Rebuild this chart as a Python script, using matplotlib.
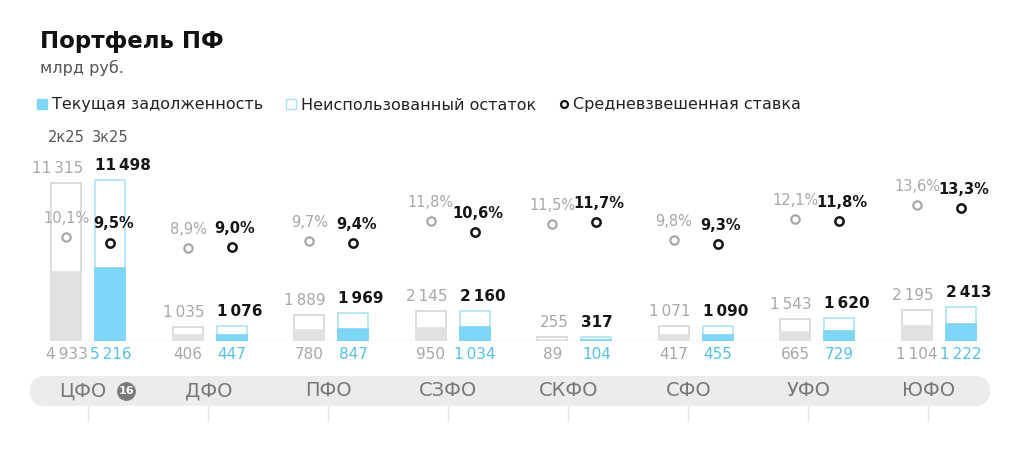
import matplotlib

matplotlib.use("Agg")
import matplotlib.pyplot as plt
import numpy as np
from matplotlib.lines import Line2D
from matplotlib.patches import FancyBboxPatch
from matplotlib.transforms import blended_transform_factory

REGIONS = ["ЦФО", "ДФО", "ПФО", "СЗФО", "СКФО", "СФО", "УФО", "ЮФО"]
PERIODS = ["2к25", "3к25"]
TOTAL_PREV = [11315, 1035, 1889, 2145, 255, 1071, 1543, 2195]
TOTAL_CUR = [11498, 1076, 1969, 2160, 317, 1090, 1620, 2413]
DEBT_PREV = [4933, 406, 780, 950, 89, 417, 665, 1104]
DEBT_CUR = [5216, 447, 847, 1034, 104, 455, 729, 1222]
RATE_PREV = [10.1, 8.9, 9.7, 11.8, 11.5, 9.8, 12.1, 13.6]
RATE_CUR = [9.5, 9.0, 9.4, 10.6, 11.7, 9.3, 11.8, 13.3]
BADGE = "16"

BLUE = "#7dd6f6"
BLUE_EDGE = "#aee3f7"
BLUE_TEXT = "#55c1ea"
GREY_FILL = "#e1e1e1"
GREY_EDGE = "#d6d6d6"
GREY_TEXT = "#a8a8a8"
DARK = "#151515"


def fmt_num(v):
    return f"{v:,}".replace(",", "\u2009")


def fmt_rate(v):
    return f"{v:.1f}%".replace(".", ",")


plt.rcParams["font.family"] = "DejaVu Sans"

W, H = 1009, 453
fig = plt.figure(figsize=(W / 100, H / 100), dpi=100)
fig.patch.set_facecolor("white")

# main axes: baseline at y=341px, top at 130px, from x=30px to 990px
ax = fig.add_axes([30 / W, (H - 341) / H, 960 / W, 211 / H])
ax.set_xlim(-0.481, 7.420)
ax.set_ylim(0, 15070)
ax.axis("off")

rax = ax.twinx()
rax.set_ylim(-1.264, 21.796)
rax.axis("off")

x = np.arange(len(REGIONS))
off = 0.181
bw = 0.247

ax.axhline(0, xmin=0.02, xmax=1.0, color="#e4e4e4", lw=1.0, zorder=1)

# previous period (grey)
ax.bar(x - off, TOTAL_PREV, bw, facecolor="white", edgecolor=GREY_EDGE, linewidth=1.2, zorder=2)
ax.bar(x - off, DEBT_PREV, bw, facecolor=GREY_FILL, edgecolor=GREY_FILL, linewidth=1.2, zorder=3)
# current period (blue)
ax.bar(x + off, TOTAL_CUR, bw, facecolor="white", edgecolor=BLUE_EDGE, linewidth=1.2, zorder=2)
ax.bar(x + off, DEBT_CUR, bw, facecolor=BLUE, edgecolor=BLUE, linewidth=1.2, zorder=3)

for i in range(len(REGIONS)):
    ax.annotate(fmt_num(TOTAL_PREV[i]), (x[i] - off + bw / 2, TOTAL_PREV[i]),
                xytext=(1, 5), textcoords="offset points", ha="right", va="bottom",
                fontsize=11, color=GREY_TEXT)
    ax.annotate(fmt_num(TOTAL_CUR[i]), (x[i] + off - bw / 2, TOTAL_CUR[i]),
                xytext=(0, 5), textcoords="offset points", ha="left", va="bottom",
                fontsize=11, color=DARK, fontweight="bold")
    ax.annotate(fmt_num(DEBT_PREV[i]), (x[i] - off, 0),
                xytext=(0, -4), textcoords="offset points", ha="center", va="top",
                fontsize=11, color=GREY_TEXT)
    ax.annotate(fmt_num(DEBT_CUR[i]), (x[i] + off, 0),
                xytext=(0, -4), textcoords="offset points", ha="center", va="top",
                fontsize=11, color=BLUE_TEXT)

rax.plot(x - off, RATE_PREV, "o", ms=6, mfc="white", mec="#a8a8a8", mew=1.6, zorder=4)
rax.plot(x + off, RATE_CUR, "o", ms=6, mfc="white", mec=DARK, mew=1.8, zorder=4)
for i in range(len(REGIONS)):
    rax.annotate(fmt_rate(RATE_PREV[i]), (x[i] - off, RATE_PREV[i]),
                 xytext=(0, 8), textcoords="offset points", ha="center", va="bottom",
                 fontsize=10.5, color=GREY_TEXT)
    rax.annotate(fmt_rate(RATE_CUR[i]), (x[i] + off, RATE_CUR[i]),
                 xytext=(2, 8), textcoords="offset points", ha="center", va="bottom",
                 fontsize=10.5, color=DARK, fontweight="bold")

bt = blended_transform_factory(ax.transData, fig.transFigure)

# period labels above the first group
ax.text(x[0] - off, 1 - 137 / H, PERIODS[0], transform=bt, ha="center", va="center",
        fontsize=10.5, color="#555555")
ax.text(x[0] + off, 1 - 137 / H, PERIODS[1], transform=bt, ha="center", va="center",
        fontsize=10.5, color="#555555")

# grey band with region names
band = FancyBboxPatch((0.30, (H - 406) / 100), 9.60, 0.30,
                      boxstyle="round,pad=0,rounding_size=0.15",
                      transform=fig.dpi_scale_trans, facecolor="#ececec",
                      edgecolor="none", zorder=0)
fig.add_artist(band)

lx = x * 120 / 121.5
for i, name in enumerate(REGIONS):
    shift = -0.05 if i == 0 else 0
    ax.text(lx[i] + shift, 1 - 391 / H, name, transform=bt, ha="center", va="center",
            fontsize=14, color="#777777")
    ax.plot([lx[i], lx[i]], [1 - 406 / H, 1 - 421 / H], transform=bt,
            color="#e6e6e6", lw=1.0, clip_on=False)

ax.plot([lx[0] + 0.31], [1 - 391 / H], "o", ms=12.5, color="#7a7a7a",
        transform=bt, clip_on=False)
ax.text(lx[0] + 0.31, 1 - 391 / H, BADGE, transform=bt, ha="center", va="center",
        fontsize=8, color="white", fontweight="bold")

# title
fig.text(40 / W, 1 - 48 / H, "Портфель ПФ", fontsize=16.5, fontweight="bold",
         color="#111111", va="baseline")
fig.text(40 / W, 1 - 73 / H, "млрд руб.", fontsize=11.5, color="#555555", va="baseline")

# legend
handles = [
    Line2D([], [], marker="s", ls="none", ms=7, mfc=BLUE, mec=BLUE),
    Line2D([], [], marker="s", ls="none", ms=7, mfc="white", mec=BLUE_EDGE, mew=1.0),
    Line2D([], [], marker="o", ls="none", ms=5, mfc="white", mec=DARK, mew=1.6),
]
labels = ["Текущая задолженность", "Неиспользованный остаток", "Средневзвешенная ставка"]
fig.legend(handles, labels, loc="center left", bbox_to_anchor=(36 / W, 1 - 105 / H),
           ncol=3, frameon=False, fontsize=11.5, handlelength=0.8, handletextpad=0.2,
           columnspacing=1.35, borderpad=0, borderaxespad=0, labelcolor="#222222")

fig.savefig("out.png", dpi=100)
plt.close(fig)
